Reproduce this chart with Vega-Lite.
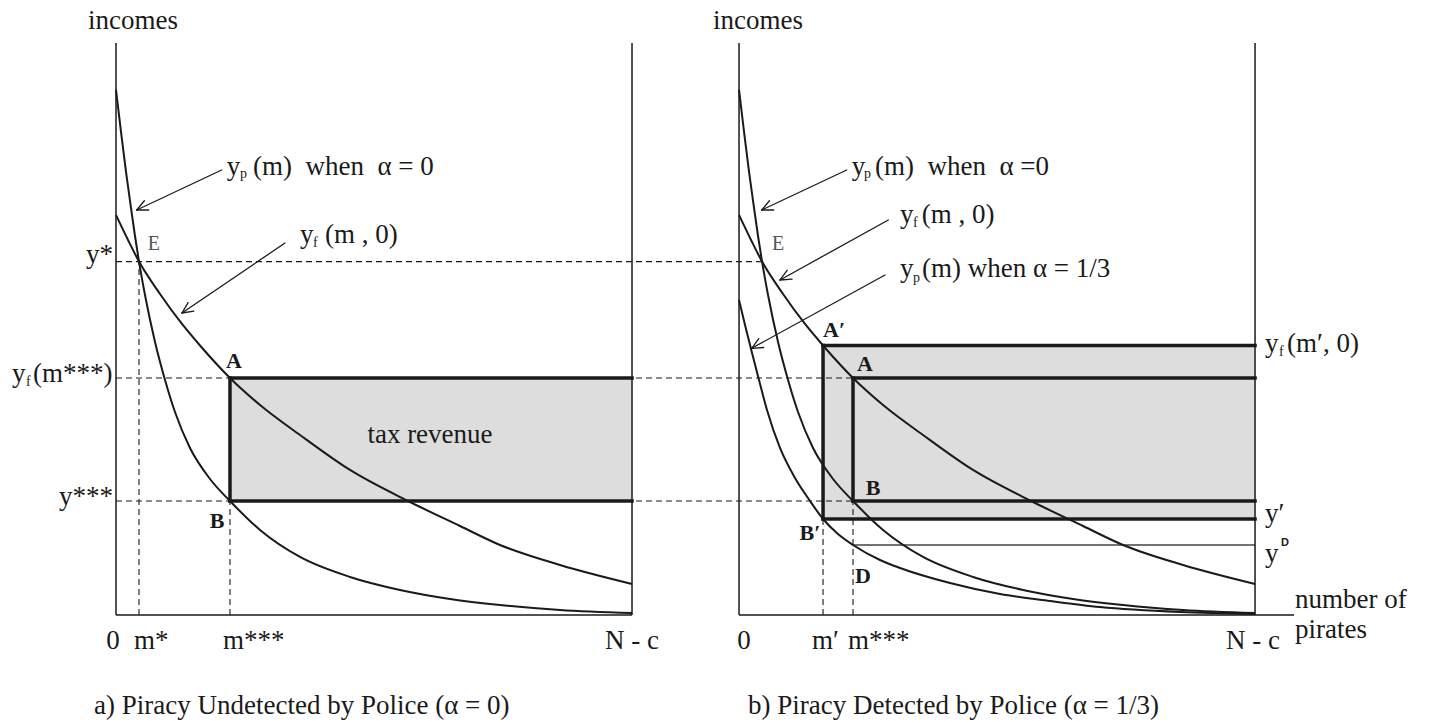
{
  "$schema": "https://vega.github.io/schema/vega-lite/v6.json",
  "width": 1431,
  "height": 723,
  "autosize": {"type": "none"},
  "padding": 0,
  "background": "white",
  "config": {"view": {"stroke": null}},
  "datasets": {
    "fills": [
      {"x": 22.09, "x2": 100, "y": 20.0, "y2": 41.58},
      {"x": 137.02, "x2": 220.74, "y": 16.84, "y2": 47.28}
    ],
    "dashed": [
      {"x": 0, "x2": 125.2, "y": 62.0, "y2": 62.0},
      {"x": 0, "x2": 142.83, "y": 41.58, "y2": 41.58},
      {"x": 0, "x2": 142.83, "y": 20.0, "y2": 20.0},
      {"x": 4.46, "x2": 4.46, "y": 0, "y2": 62.0},
      {"x": 22.09, "x2": 22.09, "y": 0, "y2": 20.0},
      {"x": 137.02, "x2": 137.02, "y": 0, "y2": 16.84},
      {"x": 142.83, "x2": 142.83, "y": 0, "y2": 20.0}
    ],
    "curves": [
      {"series": "yp0_left", "x": 0, "y": 92.11},
      {"series": "yp0_left", "x": 0.97, "y": 84.74},
      {"series": "yp0_left", "x": 1.94, "y": 77.72},
      {"series": "yp0_left", "x": 2.91, "y": 71.4},
      {"series": "yp0_left", "x": 3.68, "y": 66.49},
      {"series": "yp0_left", "x": 4.46, "y": 62.0},
      {"series": "yp0_left", "x": 5.62, "y": 56.14},
      {"series": "yp0_left", "x": 7.56, "y": 47.89},
      {"series": "yp0_left", "x": 9.5, "y": 41.23},
      {"series": "yp0_left", "x": 11.43, "y": 35.61},
      {"series": "yp0_left", "x": 14.34, "y": 29.3},
      {"series": "yp0_left", "x": 18.22, "y": 23.86},
      {"series": "yp0_left", "x": 22.09, "y": 20.0},
      {"series": "yp0_left", "x": 27.91, "y": 14.91},
      {"series": "yp0_left", "x": 35.66, "y": 10.18},
      {"series": "yp0_left", "x": 45.35, "y": 6.67},
      {"series": "yp0_left", "x": 55.04, "y": 4.39},
      {"series": "yp0_left", "x": 64.73, "y": 2.81},
      {"series": "yp0_left", "x": 74.42, "y": 1.75},
      {"series": "yp0_left", "x": 86.05, "y": 0.88},
      {"series": "yp0_left", "x": 100, "y": 0.35},
      {"series": "yf_left", "x": 0, "y": 70.18},
      {"series": "yf_left", "x": 2.33, "y": 65.79},
      {"series": "yf_left", "x": 4.46, "y": 62.0},
      {"series": "yf_left", "x": 8.53, "y": 56.32},
      {"series": "yf_left", "x": 12.79, "y": 51.05},
      {"series": "yf_left", "x": 16.28, "y": 47.28},
      {"series": "yf_left", "x": 22.09, "y": 41.58},
      {"series": "yf_left", "x": 27.91, "y": 36.84},
      {"series": "yf_left", "x": 35.66, "y": 31.58},
      {"series": "yf_left", "x": 45.35, "y": 25.44},
      {"series": "yf_left", "x": 56.98, "y": 19.82},
      {"series": "yf_left", "x": 66.67, "y": 15.61},
      {"series": "yf_left", "x": 74.42, "y": 12.28},
      {"series": "yf_left", "x": 86.05, "y": 8.77},
      {"series": "yf_left", "x": 100, "y": 5.44},
      {"series": "yp0_right", "x": 120.74, "y": 92.11},
      {"series": "yp0_right", "x": 121.71, "y": 84.74},
      {"series": "yp0_right", "x": 122.68, "y": 77.72},
      {"series": "yp0_right", "x": 123.65, "y": 71.4},
      {"series": "yp0_right", "x": 124.42, "y": 66.49},
      {"series": "yp0_right", "x": 125.2, "y": 62.0},
      {"series": "yp0_right", "x": 126.36, "y": 56.14},
      {"series": "yp0_right", "x": 128.3, "y": 47.89},
      {"series": "yp0_right", "x": 130.24, "y": 41.23},
      {"series": "yp0_right", "x": 132.17, "y": 35.61},
      {"series": "yp0_right", "x": 135.08, "y": 29.3},
      {"series": "yp0_right", "x": 138.96, "y": 23.86},
      {"series": "yp0_right", "x": 142.83, "y": 20.0},
      {"series": "yp0_right", "x": 148.65, "y": 14.91},
      {"series": "yp0_right", "x": 156.4, "y": 10.18},
      {"series": "yp0_right", "x": 166.09, "y": 6.67},
      {"series": "yp0_right", "x": 175.78, "y": 4.39},
      {"series": "yp0_right", "x": 185.47, "y": 2.81},
      {"series": "yp0_right", "x": 195.16, "y": 1.75},
      {"series": "yp0_right", "x": 206.79, "y": 0.88},
      {"series": "yp0_right", "x": 220.74, "y": 0.35},
      {"series": "yf_right", "x": 120.74, "y": 70.18},
      {"series": "yf_right", "x": 123.07, "y": 65.79},
      {"series": "yf_right", "x": 125.2, "y": 62.0},
      {"series": "yf_right", "x": 129.27, "y": 56.32},
      {"series": "yf_right", "x": 133.53, "y": 51.05},
      {"series": "yf_right", "x": 137.02, "y": 47.28},
      {"series": "yf_right", "x": 142.83, "y": 41.58},
      {"series": "yf_right", "x": 148.65, "y": 36.84},
      {"series": "yf_right", "x": 156.4, "y": 31.58},
      {"series": "yf_right", "x": 166.09, "y": 25.44},
      {"series": "yf_right", "x": 177.72, "y": 19.82},
      {"series": "yf_right", "x": 187.41, "y": 15.61},
      {"series": "yf_right", "x": 195.16, "y": 12.28},
      {"series": "yf_right", "x": 206.79, "y": 8.77},
      {"series": "yf_right", "x": 220.74, "y": 5.44},
      {"series": "yp13_right", "x": 120.74, "y": 55.26},
      {"series": "yp13_right", "x": 121.9, "y": 50.88},
      {"series": "yp13_right", "x": 123.26, "y": 45.96},
      {"series": "yp13_right", "x": 124.81, "y": 40.53},
      {"series": "yp13_right", "x": 126.16, "y": 35.96},
      {"series": "yp13_right", "x": 128.68, "y": 29.3},
      {"series": "yp13_right", "x": 131.59, "y": 24.04},
      {"series": "yp13_right", "x": 134.5, "y": 20.0},
      {"series": "yp13_right", "x": 137.02, "y": 16.84},
      {"series": "yp13_right", "x": 139.92, "y": 14.21},
      {"series": "yp13_right", "x": 142.83, "y": 12.28},
      {"series": "yp13_right", "x": 148.06, "y": 9.65},
      {"series": "yp13_right", "x": 151.94, "y": 8.25},
      {"series": "yp13_right", "x": 161.63, "y": 5.61},
      {"series": "yp13_right", "x": 171.32, "y": 3.68},
      {"series": "yp13_right", "x": 181.01, "y": 2.46},
      {"series": "yp13_right", "x": 190.7, "y": 1.4},
      {"series": "yp13_right", "x": 206.2, "y": 0.53},
      {"series": "yp13_right", "x": 220.74, "y": 0.18}
    ],
    "thick": [
      {"x": 22.09, "x2": 100, "y": 41.58, "y2": 41.58},
      {"x": 22.09, "x2": 100, "y": 20.0, "y2": 20.0},
      {"x": 22.09, "x2": 22.09, "y": 20.0, "y2": 41.58},
      {"x": 137.02, "x2": 220.74, "y": 47.28, "y2": 47.28},
      {"x": 137.02, "x2": 220.74, "y": 16.84, "y2": 16.84},
      {"x": 137.02, "x2": 137.02, "y": 16.84, "y2": 47.28},
      {"x": 142.83, "x2": 220.74, "y": 41.58, "y2": 41.58},
      {"x": 142.83, "x2": 220.74, "y": 20.0, "y2": 20.0},
      {"x": 142.83, "x2": 142.83, "y": 20.0, "y2": 41.58}
    ],
    "ydline": [
      {"x": 142.83, "x2": 220.74, "y": 12.28, "y2": 12.28}
    ],
    "axes": [
      {"x": 0, "x2": 0, "y": 0, "y2": 100.35},
      {"x": 0, "x2": 100, "y": 0, "y2": 0},
      {"x": 100, "x2": 100, "y": 0, "y2": 100.35},
      {"x": 120.74, "x2": 120.74, "y": 0, "y2": 100.35},
      {"x": 120.74, "x2": 228.29, "y": 0, "y2": 0},
      {"x": 220.74, "x2": 220.74, "y": 0, "y2": 100.35}
    ],
    "arrows": [
      {"x": 20.48, "y": 78.07, "x2": 4.01, "y2": 71.05},
      {"x": 4.01, "y": 71.05, "x2": 6.34, "y2": 71.05},
      {"x": 4.01, "y": 71.05, "x2": 5.5, "y2": 72.67},
      {"x": 32.75, "y": 65.26, "x2": 12.79, "y2": 52.98},
      {"x": 12.79, "y": 52.98, "x2": 15.08, "y2": 53.32},
      {"x": 12.79, "y": 52.98, "x2": 13.97, "y2": 54.79},
      {"x": 141.61, "y": 78.07, "x2": 125.14, "y2": 71.05},
      {"x": 125.14, "y": 71.05, "x2": 127.46, "y2": 71.05},
      {"x": 125.14, "y": 71.05, "x2": 126.63, "y2": 72.67},
      {"x": 149.67, "y": 69.3, "x2": 128.68, "y2": 58.77},
      {"x": 128.68, "y": 58.77, "x2": 131.01, "y2": 58.91},
      {"x": 128.68, "y": 58.77, "x2": 130.06, "y2": 60.47},
      {"x": 149.03, "y": 59.65, "x2": 123.2, "y2": 46.79},
      {"x": 123.2, "y": 46.79, "x2": 125.52, "y2": 46.93},
      {"x": 123.2, "y": 46.79, "x2": 124.57, "y2": 48.49}
    ],
    "textLeft": [
      {"x": -5.43, "y": 102.81, "text": "incomes"},
      {"x": 115.7, "y": 102.81, "text": "incomes"},
      {"x": 21.45, "y": 77.19, "text": "y"},
      {"x": 26.55, "y": 77.19, "text": "(m)\u00a0\u00a0when\u00a0\u00a0α = 0"},
      {"x": 35.66, "y": 65.26, "text": "y"},
      {"x": 40.5, "y": 65.26, "text": "(m , 0)"},
      {"x": 142.58, "y": 77.19, "text": "y"},
      {"x": 147.09, "y": 77.19, "text": "(m)\u00a0\u00a0when\u00a0\u00a0α =0"},
      {"x": 151.94, "y": 68.77, "text": "y"},
      {"x": 156.14, "y": 68.77, "text": "(m , 0)"},
      {"x": 151.94, "y": 59.3, "text": "y"},
      {"x": 156.2, "y": 59.3, "text": "(m) when α = 1/3"},
      {"x": -20.16, "y": 40.88, "text": "y"},
      {"x": -16.09, "y": 40.88, "text": "(m***)"},
      {"x": 222.67, "y": 46.14, "text": "y"},
      {"x": 226.94, "y": 46.14, "text": "(m′, 0)"},
      {"x": 222.67, "y": 16.32, "text": "y′"},
      {"x": 222.67, "y": 9.3, "text": "y"},
      {"x": 3.49, "y": -5.96, "text": "m*"},
      {"x": 20.74, "y": -5.96, "text": "m***"},
      {"x": 134.88, "y": -5.96, "text": "m′"},
      {"x": 141.86, "y": -5.96, "text": "m***"},
      {"x": 228.49, "y": 1.23, "text": "number of"},
      {"x": 228.49, "y": -4.04, "text": "pirates"},
      {"x": -4.26, "y": -17.37, "text": "a) Piracy Undetected by Police (α = 0)"},
      {"x": 122.48, "y": -17.37, "text": "b) Piracy Detected by Police (α = 1/3)"}
    ],
    "textRight": [
      {"x": -0.58, "y": 61.75, "text": "y*"},
      {"x": -0.58, "y": 19.3, "text": "y***"}
    ],
    "textCenter": [
      {"x": -0.58, "y": -5.96, "text": "0"},
      {"x": 100, "y": -5.96, "text": "N - c"},
      {"x": 121.71, "y": -5.96, "text": "0"},
      {"x": 220.35, "y": -5.96, "text": "N - c"},
      {"x": 60.85, "y": 30.18, "text": "tax revenue"}
    ],
    "subs": [
      {"x": 24.03, "y": 76.67, "text": "p"},
      {"x": 38.18, "y": 64.56, "text": "f"},
      {"x": 144.96, "y": 76.67, "text": "p"},
      {"x": 154.46, "y": 68.07, "text": "f"},
      {"x": 154.46, "y": 58.42, "text": "p"},
      {"x": -17.44, "y": 40.18, "text": "f"},
      {"x": 225.39, "y": 45.44, "text": "f"}
    ],
    "points": [
      {"x": 22.87, "y": 44.56, "text": "A"},
      {"x": 19.57, "y": 16.49, "text": "B"},
      {"x": 139.15, "y": 50.0, "text": "A′"},
      {"x": 145.16, "y": 44.04, "text": "A"},
      {"x": 146.71, "y": 22.28, "text": "B"},
      {"x": 134.5, "y": 14.39, "text": "B′"},
      {"x": 144.77, "y": 6.84, "text": "D"}
    ],
    "eLabels": [
      {"x": 7.36, "y": 65.09, "text": "E"},
      {"x": 128.29, "y": 65.09, "text": "E"}
    ],
    "sup": [
      {"x": 226.55, "y": 12.63, "text": "D"}
    ]
  },
  "encoding": {
    "x": {"field": "x", "type": "quantitative", "scale": {"domain": [-22.48, 254.84], "nice": false, "zero": false}, "axis": null},
    "y": {"field": "y", "type": "quantitative", "scale": {"domain": [-18.95, 107.89], "nice": false, "zero": false}, "axis": null}
  },
  "layer": [
    {
      "data": {"name": "fills"},
      "mark": {"type": "rect", "fill": "#dddddd", "stroke": null},
      "encoding": {"x2": {"field": "x2"}, "y2": {"field": "y2"}}
    },
    {
      "data": {"name": "dashed"},
      "mark": {"type": "rule", "color": "#1a1a1a", "strokeWidth": 1.1, "strokeDash": [6, 4]},
      "encoding": {"x2": {"field": "x2"}, "y2": {"field": "y2"}}
    },
    {
      "data": {"name": "ydline"},
      "mark": {"type": "rule", "color": "#444444", "strokeWidth": 1.6},
      "encoding": {"x2": {"field": "x2"}, "y2": {"field": "y2"}}
    },
    {
      "data": {"name": "curves"},
      "mark": {"type": "line", "color": "#1a1a1a", "strokeWidth": 2, "interpolate": "monotone"},
      "encoding": {"detail": {"field": "series"}}
    },
    {
      "data": {"name": "thick"},
      "mark": {"type": "rule", "color": "#1a1a1a", "strokeWidth": 3.5, "strokeCap": "square"},
      "encoding": {"x2": {"field": "x2"}, "y2": {"field": "y2"}}
    },
    {
      "data": {"name": "axes"},
      "mark": {"type": "rule", "color": "#1a1a1a", "strokeWidth": 1.5},
      "encoding": {"x2": {"field": "x2"}, "y2": {"field": "y2"}}
    },
    {
      "data": {"name": "arrows"},
      "mark": {"type": "rule", "color": "#1a1a1a", "strokeWidth": 1.3, "strokeCap": "round"},
      "encoding": {"x2": {"field": "x2"}, "y2": {"field": "y2"}}
    },
    {
      "data": {"name": "textLeft"},
      "mark": {"type": "text", "font": "Liberation Serif", "fontSize": 27, "align": "left", "baseline": "alphabetic", "color": "#1a1a1a"},
      "encoding": {"text": {"field": "text"}}
    },
    {
      "data": {"name": "textRight"},
      "mark": {"type": "text", "font": "Liberation Serif", "fontSize": 27, "align": "right", "baseline": "alphabetic", "color": "#1a1a1a"},
      "encoding": {"text": {"field": "text"}}
    },
    {
      "data": {"name": "textCenter"},
      "mark": {"type": "text", "font": "Liberation Serif", "fontSize": 27, "align": "center", "baseline": "alphabetic", "color": "#1a1a1a"},
      "encoding": {"text": {"field": "text"}}
    },
    {
      "data": {"name": "subs"},
      "mark": {"type": "text", "font": "Liberation Serif", "fontSize": 14, "align": "left", "baseline": "alphabetic", "color": "#1a1a1a"},
      "encoding": {"text": {"field": "text"}}
    },
    {
      "data": {"name": "points"},
      "mark": {"type": "text", "font": "Liberation Serif", "fontSize": 22, "fontWeight": "bold", "align": "center", "baseline": "middle", "color": "#1a1a1a"},
      "encoding": {"text": {"field": "text"}}
    },
    {
      "data": {"name": "eLabels"},
      "mark": {"type": "text", "font": "Liberation Serif", "fontSize": 20, "align": "center", "baseline": "middle", "color": "#555555"},
      "encoding": {"text": {"field": "text"}}
    },
    {
      "data": {"name": "sup"},
      "mark": {"type": "text", "font": "Liberation Sans", "fontSize": 11, "fontWeight": "bold", "align": "center", "baseline": "middle", "color": "#1a1a1a"},
      "encoding": {"text": {"field": "text"}}
    }
  ]
}
